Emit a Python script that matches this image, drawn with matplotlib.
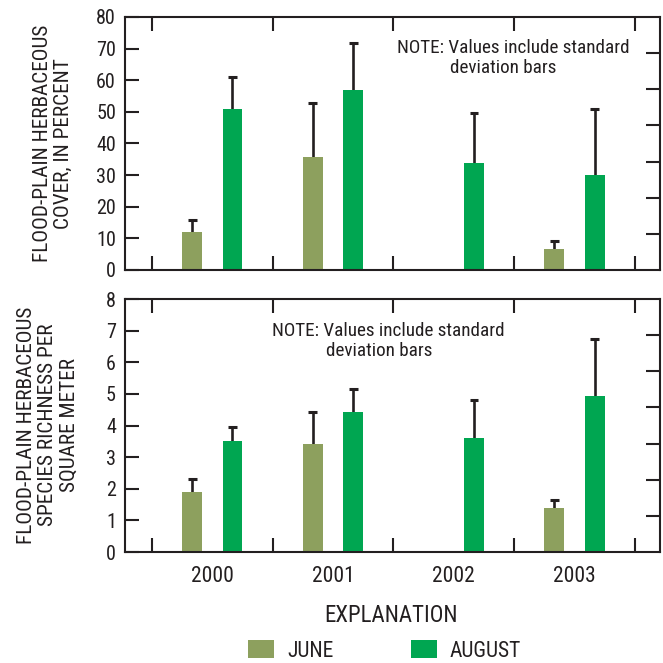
import matplotlib
matplotlib.use("Agg")
import matplotlib.pyplot as plt
import numpy as np
from matplotlib.patches import Patch

years = ["2000", "2001", "2002", "2003"]

# cover, in percent (June has no 2002 sample)
cover_june = [12.0, 35.8, np.nan, 6.5]
cover_june_sd = [3.9, 17.1, np.nan, 2.6]
cover_aug = [50.8, 57.0, 33.8, 29.9]
cover_aug_sd = [10.1, 14.8, 15.9, 20.9]

# species richness per square meter
rich_june = [1.9, 3.41, np.nan, 1.38]
rich_june_sd = [0.42, 1.02, np.nan, 0.25]
rich_aug = [3.5, 4.42, 3.59, 4.93]
rich_aug_sd = [0.44, 0.72, 1.21, 1.79]

JUNE = "#8da05e"
AUGUST = "#00a651"
INK = "#231f20"

plt.rcParams["font.family"] = ["Roboto Condensed", "DejaVu Sans"]
plt.rcParams["text.color"] = INK

fig = plt.figure(figsize=(6.63, 6.63), dpi=100)
ax_top = fig.add_axes([0.1885, 0.5928, 0.807, 0.3816])
ax_bot = fig.add_axes([0.1885, 0.1674, 0.807, 0.3816])

x = np.arange(1, len(years) + 1)
width = 0.165
offset = 0.167
cap = 0.037


def sd_bars(ax, xs, vals, sds):
    vals = np.asarray(vals)
    tops = vals + np.asarray(sds)
    ax.vlines(xs, vals, tops, colors=INK, linewidth=1.9, zorder=1)
    ax.hlines(tops, xs - cap, xs + cap, colors=INK, linewidth=2.2, zorder=1)


def draw_panel(ax, june, june_sd, aug, aug_sd, ymax, show_years):
    ax.bar(x - offset, june, width, color=JUNE, zorder=2)
    ax.bar(x + offset, aug, width, color=AUGUST, zorder=2)
    sd_bars(ax, x - offset, june, june_sd)
    sd_bars(ax, x + offset, aug, aug_sd)
    ax.set_xlim(0.277, 4.707)
    ax.set_ylim(0, ymax)
    ticks = np.linspace(0, ymax, 9)
    ax.set_yticks(ticks)
    ax.set_yticklabels([f"{v:g}" for v in ticks])
    ax.set_xticks(np.arange(0.5, len(years) + 1, 1.0))
    ax.set_xticklabels([])
    ax.tick_params(axis="both", which="major", direction="in", length=10, width=1.5,
                   color=INK, top=True, labelsize=14.5, pad=6.5, labelcolor=INK)
    if show_years:
        ax.set_xticks(x, minor=True)
        ax.set_xticklabels(years, minor=True, fontsize=15.5, color=INK)
        ax.tick_params(axis="x", which="minor", length=0, pad=10)
    for s in ax.spines.values():
        s.set_linewidth(1.5)
        s.set_color(INK)
    # right-hand frame carries its own seven-part tick marks
    twin = ax.twinx()
    twin.set_ylim(0, 7)
    twin.set_yticks(np.arange(1, 7))
    twin.set_yticklabels([])
    twin.tick_params(axis="y", direction="in", length=10, width=1.5, color=INK)
    for s in twin.spines.values():
        s.set_visible(False)


draw_panel(ax_top, cover_june, cover_june_sd, cover_aug, cover_aug_sd, 80, False)
draw_panel(ax_bot, rich_june, rich_june_sd, rich_aug, rich_aug_sd, 8, True)

note = dict(fontsize=13.8, va="baseline", ha="left")
ax_top.text(0.508, 0.858, "NOTE: Values include standard", transform=ax_top.transAxes, **note)
ax_top.text(0.607, 0.779, "deviation bars", transform=ax_top.transAxes, **note)
ax_bot.text(0.275, 0.854, "NOTE: Values include standard", transform=ax_bot.transAxes, **note)
ax_bot.text(0.376, 0.775, "deviation bars", transform=ax_bot.transAxes, **note)

fig.text(0.080, 0.7836, "FLOOD-PLAIN HERBACEOUS\nCOVER, IN PERCENT", rotation=90,
         ha="center", va="center", multialignment="center", fontsize=15.3, linespacing=1.15)
fig.text(0.072, 0.359, "FLOOD-PLAIN HERBACEOUS\nSPECIES RICHNESS PER\nSQUARE METER", rotation=90,
         ha="center", va="center", multialignment="center", fontsize=15.3, linespacing=1.15)

fig.text(0.590, 0.071, "EXPLANATION", ha="center", va="center", fontsize=16.5)
handles = [Patch(facecolor=JUNE), Patch(facecolor=AUGUST)]
fig.legend(handles, ["JUNE", "AUGUST"], ncol=2, loc="center", bbox_to_anchor=(0.580, 0.018),
           frameon=False, fontsize=15.5, handlelength=1.2, handleheight=0.9,
           handletextpad=0.6, columnspacing=3.6, borderpad=0)

fig.savefig("out.png", dpi=100)
